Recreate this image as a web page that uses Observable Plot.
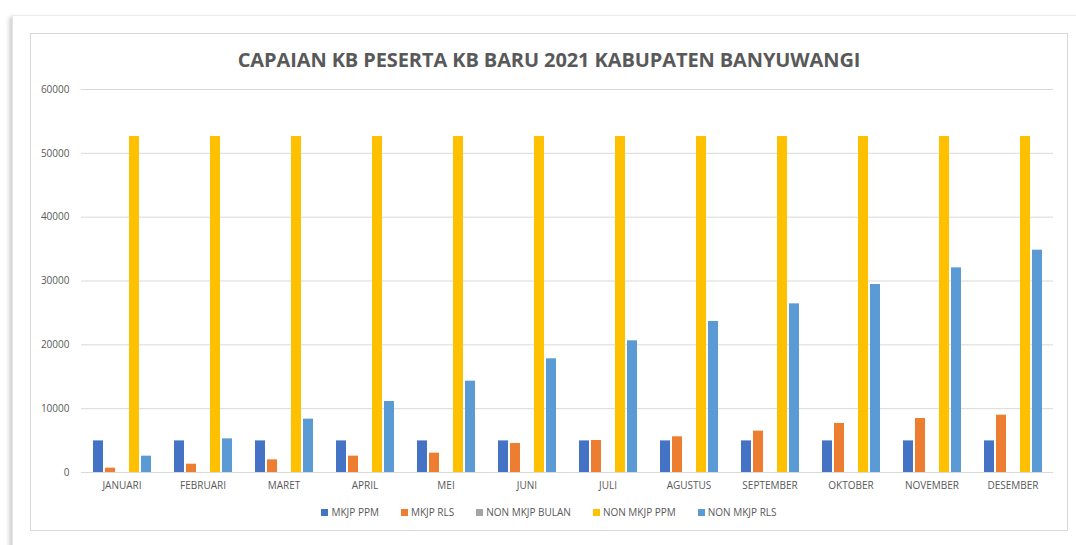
<!DOCTYPE html>
<html>
<head>
<meta charset="utf-8">
<script src="https://cdn.jsdelivr.net/npm/d3@7"></script>
<script src="https://cdn.jsdelivr.net/npm/@observablehq/plot@0.6"></script>
<style>
  html, body { margin: 0; padding: 0; background: #fff; width: 1076px; height: 545px; overflow: hidden; }
  #outer { position: absolute; left: 12px; top: 15px; width: 1100px; height: 560px; background: #fff;
           border-left: 1px solid #e4e4e4; border-top: 1px solid #ececec;
           box-shadow: -3px 2px 4px rgba(0,0,0,0.18); }
  #frame { position: absolute; left: 30px; top: 33px; width: 1036px; height: 496px; border: 1px solid #D9D9D9; background: #fff;
           font-family: "Open Sans", "Liberation Sans", sans-serif; }
  #title { position: absolute; left: 0; width: 100%; top: 12px; text-align: center; font-weight: 700; font-size: 20px;
           color: #595959; letter-spacing: -0.1px; }
  #chart { position: absolute; left: 0; top: 40px; }
  #legend { position: absolute; left: 0; width: 100%; top: 471px; display: flex; justify-content: center; gap: 22px;
            font-size: 10px; color: #595959; }
  #legend span.item { display: inline-flex; align-items: center; }
  #legend i { display: inline-block; width: 7px; height: 7px; margin-right: 3px; }
</style>
</head>
<body>
<div id="outer"></div>
<div id="frame">
  <div id="title"></div>
  <div id="chart"></div>
  <div id="legend"></div>
</div>
<script>
const title = "CAPAIAN KB PESERTA KB BARU 2021 KABUPATEN BANYUWANGI";
const months = ["JANUARI","FEBRUARI","MARET","APRIL","MEI","JUNI","JULI","AGUSTUS","SEPTEMBER","OKTOBER","NOVEMBER","DESEMBER"];
const seriesNames = ["MKJP PPM","MKJP RLS","NON MKJP BULAN","NON MKJP PPM","NON MKJP RLS"];
const seriesColors = ["#4472C4","#ED7D31","#A5A5A5","#FFC000","#5B9BD5"];
const mkjpPpm    = [4950,4950,4950,4950,4950,4950,4950,4950,4950,4950,4950,4950];
const mkjpRls    = [680,1300,1980,2560,3030,4540,5010,5590,6480,7680,8460,8980];
const nonMkjpBulan = [0,0,0,0,0,0,0,0,0,0,0,0];
const nonMkjpPpm = [52640,52640,52640,52640,52640,52640,52640,52640,52640,52640,52640,52640];
const nonMkjpRls = [2560,5270,8360,11120,14310,17810,20630,23660,26420,29450,32060,34830];
const yTicks = [0,10000,20000,30000,40000,50000,60000];

const seriesValues = [mkjpPpm, mkjpRls, nonMkjpBulan, nonMkjpPpm, nonMkjpRls];
const rows = [];
months.forEach((m, i) => seriesNames.forEach((s, j) => rows.push({month: m, series: s, value: seriesValues[j][i]})));

document.getElementById("title").textContent = title;

const chart = Plot.plot({
  width: 1036,
  height: 425,
  marginLeft: 49,
  marginRight: 14,
  marginTop: 15,
  marginBottom: 27,
  style: {fontFamily: "'Open Sans', sans-serif", fontSize: "10px", color: "#595959", background: "transparent"},
  facet: {data: rows, x: "month"},
  fx: {domain: months, padding: 0, label: null, axis: "bottom", tickSize: 0, tickPadding: 9},
  x: {domain: seriesNames, axis: null, paddingInner: 0.2, paddingOuter: 0.84},
  y: {domain: [0, 60000], ticks: yTicks, tickSize: 0, tickPadding: 12, label: null, tickFormat: d => String(d)},
  color: {domain: seriesNames, range: seriesColors},
  marks: [
    Plot.ruleY(yTicks, {stroke: "#D9D9D9", strokeWidth: 1}),
    Plot.barY(rows, {x: "series", y: "value", fill: "series"})
  ]
});
document.getElementById("chart").appendChild(chart);

const legend = document.getElementById("legend");
seriesNames.forEach((s, j) => {
  const it = document.createElement("span");
  it.className = "item";
  const sw = document.createElement("i");
  sw.style.background = seriesColors[j];
  it.appendChild(sw);
  it.appendChild(document.createTextNode(s));
  legend.appendChild(it);
});
</script>
</body>
</html>
